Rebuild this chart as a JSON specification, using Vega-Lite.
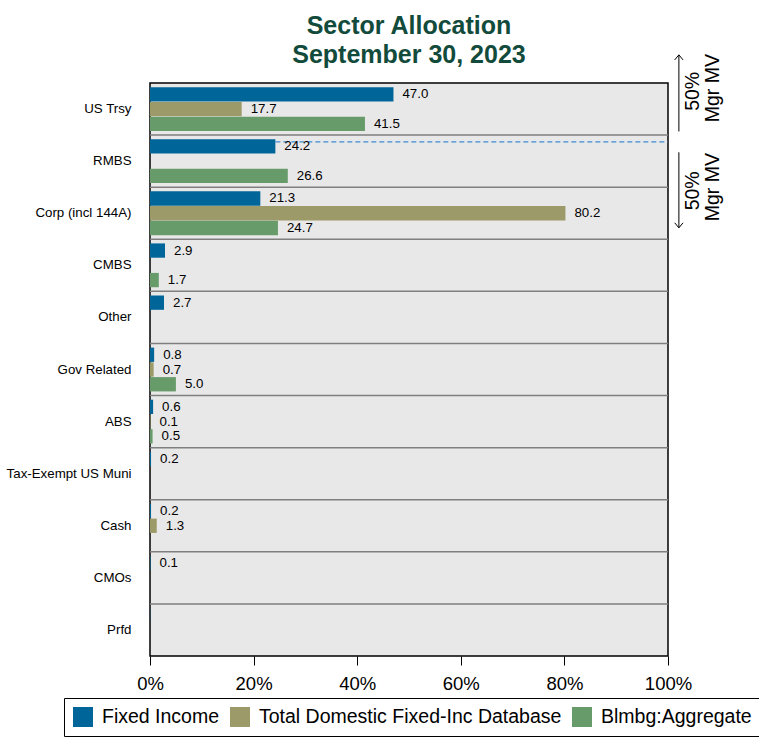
{
  "$schema": "https://vega.github.io/schema/vega-lite/v6.json",
  "width": 518,
  "height": 573,
  "padding": {"left": 6, "top": 13, "right": 5, "bottom": 3},
  "background": "white",
  "config": {
    "font": "Liberation Sans",
    "view": {"stroke": "black", "strokeWidth": 1.5, "fill": "#e8e8e8"}
  },
  "title": {
    "text": ["Sector Allocation", "September 30, 2023"],
    "fontSize": 25,
    "fontWeight": "bold",
    "color": "#124b3b",
    "anchor": "middle",
    "frame": "group",
    "offset": -15,
    "lineHeight": 29
  },
  "datasets": {
    "alloc": [
      {"cat": "US Trsy", "series": "Fixed Income", "v": 47.0},
      {"cat": "US Trsy", "series": "Total Domestic Fixed-Inc Database", "v": 17.7},
      {"cat": "US Trsy", "series": "Blmbg:Aggregate", "v": 41.5},
      {"cat": "RMBS", "series": "Fixed Income", "v": 24.2},
      {"cat": "RMBS", "series": "Blmbg:Aggregate", "v": 26.6},
      {"cat": "Corp (incl 144A)", "series": "Fixed Income", "v": 21.3},
      {"cat": "Corp (incl 144A)", "series": "Total Domestic Fixed-Inc Database", "v": 80.2},
      {"cat": "Corp (incl 144A)", "series": "Blmbg:Aggregate", "v": 24.7},
      {"cat": "CMBS", "series": "Fixed Income", "v": 2.9},
      {"cat": "CMBS", "series": "Blmbg:Aggregate", "v": 1.7},
      {"cat": "Other", "series": "Fixed Income", "v": 2.7},
      {"cat": "Gov Related", "series": "Fixed Income", "v": 0.8},
      {"cat": "Gov Related", "series": "Total Domestic Fixed-Inc Database", "v": 0.7},
      {"cat": "Gov Related", "series": "Blmbg:Aggregate", "v": 5.0},
      {"cat": "ABS", "series": "Fixed Income", "v": 0.6},
      {"cat": "ABS", "series": "Total Domestic Fixed-Inc Database", "v": 0.1},
      {"cat": "ABS", "series": "Blmbg:Aggregate", "v": 0.5},
      {"cat": "Tax-Exempt US Muni", "series": "Fixed Income", "v": 0.2},
      {"cat": "Cash", "series": "Fixed Income", "v": 0.2},
      {"cat": "Cash", "series": "Total Domestic Fixed-Inc Database", "v": 1.3},
      {"cat": "CMOs", "series": "Fixed Income", "v": 0.1},
      {"cat": "Prfd", "series": "Fixed Income", "v": 0.04}
    ],
    "seps": [
      {"cat": "RMBS"}, {"cat": "Corp (incl 144A)"}, {"cat": "CMBS"}, {"cat": "Other"},
      {"cat": "Gov Related"}, {"cat": "ABS"}, {"cat": "Tax-Exempt US Muni"}, {"cat": "Cash"},
      {"cat": "CMOs"}, {"cat": "Prfd"}
    ],
    "arrows": [
      {"x": 102.1, "y": -0.54, "y2": 0.93},
      {"x": 102.1, "y": 1.33, "y2": 2.78}
    ],
    "heads": [
      {"x": 102.1, "y": -0.54, "dir": "up"},
      {"x": 102.1, "y": 2.78, "dir": "down"}
    ],
    "notes": [
      {"x": 104.8, "y": 0.16, "t": "50%"},
      {"x": 108.6, "y": 0.1, "t": "Mgr MV"},
      {"x": 104.8, "y": 2.07, "t": "50%"},
      {"x": 108.6, "y": 2.0, "t": "Mgr MV"}
    ]
  },
  "resolve": {"scale": {"y": "independent"}},
  "layer": [
    {
      "data": {"name": "alloc"},
      "encoding": {
        "y": {
          "field": "cat",
          "type": "nominal",
          "sort": ["US Trsy", "RMBS", "Corp (incl 144A)", "CMBS", "Other", "Gov Related", "ABS", "Tax-Exempt US Muni", "Cash", "CMOs", "Prfd"],
          "scale": {"paddingInner": 0, "paddingOuter": 0},
          "axis": {
            "title": null,
            "ticks": false,
            "domain": false,
            "labelFontSize": 13.3,
            "labelColor": "black",
            "labelPadding": 19
          }
        }
      },
      "layer": [
        {
          "mark": {"type": "rule", "color": "#7f7f7f", "strokeWidth": 1.5},
          "data": {"name": "seps"},
          "encoding": {
            "y": {"field": "cat", "type": "nominal", "bandPosition": 0}
          }
        },
        {
          "mark": {"type": "bar"},
          "encoding": {
            "x": {
              "field": "v",
              "type": "quantitative",
              "scale": {"domain": [0, 100], "nice": false, "zero": true},
              "axis": {
                "title": null,
                "values": [0, 20, 40, 60, 80, 100],
                "labelExpr": "datum.value + '%'",
                "labelFlush": false,
                "grid": false,
                "domain": false,
                "ticks": true,
                "tickColor": "black",
                "tickSize": 9,
                "tickWidth": 1,
                "labelFontSize": 18.5,
                "labelColor": "black",
                "labelPadding": 9
              }
            },
            "yOffset": {
              "field": "series",
              "type": "nominal",
              "sort": ["Fixed Income", "Total Domestic Fixed-Inc Database", "Blmbg:Aggregate"],
              "scale": {"paddingOuter": 0.28, "paddingInner": 0.03}
            },
            "color": {
              "field": "series",
              "type": "nominal",
              "sort": ["Fixed Income", "Total Domestic Fixed-Inc Database", "Blmbg:Aggregate"],
              "scale": {
                "domain": ["Fixed Income", "Total Domestic Fixed-Inc Database", "Blmbg:Aggregate"],
                "range": ["#00669a", "#9c9a68", "#679c6a"]
              },
              "legend": {
                "title": null,
                "orient": "none",
                "legendX": -86,
                "legendY": 615,
                "direction": "horizontal",
                "strokeColor": "black",
                "padding": 9,
                "labelFontSize": 19.5,
                "labelColor": "black",
                "labelOffset": 9,
                "labelLimit": 400,
                "symbolType": "square",
                "symbolSize": 400,
                "symbolStrokeWidth": 0,
                "columnPadding": 10
              }
            }
          }
        },
        {
          "mark": {"type": "rule", "color": "#3a8cd2", "strokeWidth": 1.3, "strokeDash": [5, 3]},
          "data": {"values": [{"cat": "RMBS", "x": 24.2, "x2": 100}]},
          "encoding": {
            "y": {"field": "cat", "type": "nominal", "bandPosition": 0.13},
            "x": {"field": "x", "type": "quantitative"},
            "x2": {"field": "x2"}
          }
        },
        {
          "transform": [{"filter": "datum.v >= 0.05"}],
          "mark": {"type": "text", "align": "left", "baseline": "middle", "dx": 9, "fontSize": 13.3, "color": "black"},
          "encoding": {
            "x": {"field": "v", "type": "quantitative"},
            "yOffset": {
              "field": "series",
              "type": "nominal",
              "sort": ["Fixed Income", "Total Domestic Fixed-Inc Database", "Blmbg:Aggregate"],
              "scale": {"paddingOuter": 0.28, "paddingInner": 0.03}
            },
            "text": {"field": "v", "type": "quantitative", "format": ".1f"}
          }
        }
      ]
    },
    {
      "encoding": {
        "y": {
          "type": "quantitative",
          "scale": {"domain": [0, 11], "reverse": true, "nice": false, "zero": false},
          "axis": null
        }
      },
      "layer": [
        {
          "data": {"name": "arrows"},
          "mark": {"type": "rule", "color": "black", "strokeWidth": 1},
          "encoding": {
            "x": {"field": "x", "type": "quantitative"},
            "y": {"field": "y", "type": "quantitative", "scale": {"domain": [0, 11], "reverse": true, "nice": false, "zero": false}, "axis": null},
            "y2": {"field": "y2"}
          }
        },
        {
          "data": {"name": "heads"},
          "mark": {"type": "point", "filled": false, "color": "black", "strokeWidth": 1, "size": 70, "opacity": 1},
          "encoding": {
            "x": {"field": "x", "type": "quantitative"},
            "y": {"field": "y", "type": "quantitative", "scale": {"domain": [0, 11], "reverse": true, "nice": false, "zero": false}, "axis": null},
            "shape": {
              "field": "dir",
              "type": "nominal",
              "scale": {"domain": ["up", "down"], "range": ["M-1,1.2L0,0L1,1.2", "M-1,-1.2L0,0L1,-1.2"]},
              "legend": null
            }
          }
        },
        {
          "data": {"name": "notes"},
          "mark": {"type": "text", "angle": 270, "align": "center", "baseline": "middle", "fontSize": 19.5, "color": "black"},
          "encoding": {
            "x": {"field": "x", "type": "quantitative"},
            "y": {"field": "y", "type": "quantitative", "scale": {"domain": [0, 11], "reverse": true, "nice": false, "zero": false}, "axis": null},
            "text": {"field": "t", "type": "nominal"}
          }
        }
      ]
    }
  ]
}
